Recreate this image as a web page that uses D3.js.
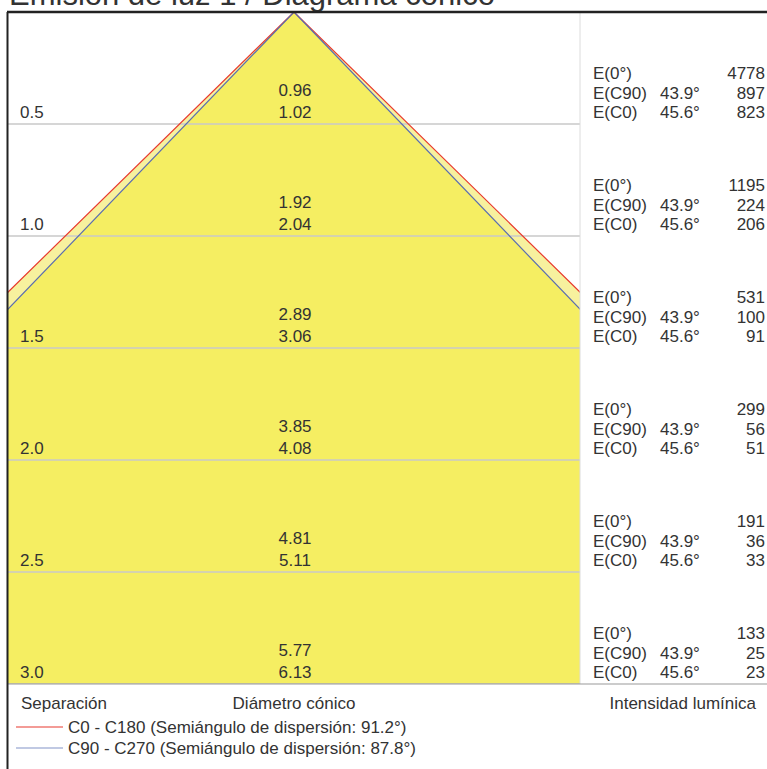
<!DOCTYPE html>
<html><head><meta charset="utf-8">
<script src="https://cdn.jsdelivr.net/npm/d3@7"></script>
<style>body{margin:0;background:#fff}svg{display:block}text{font-family:"Liberation Sans",Arial,sans-serif;fill:#333}</style>
</head><body><svg id="c" width="767" height="769"></svg>
<script>
const title = "Emisión de luz 1 / Diagrama cónico";
const distances = [0.5, 1.0, 1.5, 2.0, 2.5, 3.0];
const diamC90 = [0.96, 1.92, 2.89, 3.85, 4.81, 5.77];
const diamC0 = [1.02, 2.04, 3.06, 4.08, 5.11, 6.13];
const E0 = [4778, 1195, 531, 299, 191, 133];
const EC90 = [897, 224, 100, 56, 36, 25];
const EC0 = [823, 206, 91, 51, 33, 23];
const angleC90 = 43.9, angleC0 = 45.6;
const spreadC0 = 91.2, spreadC90 = 87.8;
const headers = ["Separación", "Diámetro cónico", "Intensidad lumínica"];

const svg = d3.select("#c");
const L = 8, R = 580, T = 12, B = 684, CX = 294;
const y = d3.scaleLinear().domain([0, 3]).range([T, B]);
const pxPerM = (B - T) / 3;
const x = d3.scaleLinear().domain([-1, 1]).range([CX - pxPerM, CX + pxPerM]);

svg.append("text").attr("x", 9).attr("y", 5).attr("font-size", 31).text(title);

svg.append("clipPath").attr("id", "cl").append("rect").attr("x", L).attr("y", T).attr("width", R - L).attr("height", B - T);
const g = svg.append("g").attr("clip-path", "url(#cl)");
const dMax = 3;
function cone(angle) {
  const h = dMax * Math.tan(angle * Math.PI / 180);
  return [[x(0), y(0)], [x(-h), y(dMax)], [x(h), y(dMax)]];
}
const line = d3.line();
g.append("path").attr("d", line(cone(angleC0)) + "Z").attr("fill", "#f7f19e");
g.append("path").attr("d", line(cone(angleC90)) + "Z").attr("fill", "#f5ee62");
g.selectAll(".gl").data(distances).join("line")
  .attr("x1", L).attr("x2", R).attr("y1", d => y(d)).attr("y2", d => y(d))
  .attr("stroke", "#c8c8c8").attr("stroke-width", 1.5);
function edges(angle, color) {
  const c = cone(angle);
  g.append("path").attr("d", line([c[1], c[0], c[2]])).attr("fill", "none").attr("stroke", color).attr("stroke-width", 1.2);
}
edges(angleC0, "#e8392e");
edges(angleC90, "#5a6db0");

svg.append("line").attr("x1", R).attr("x2", R).attr("y1", T).attr("y2", B).attr("stroke", "#dcdcdc");
svg.append("line").attr("x1", L).attr("x2", 767).attr("y1", B).attr("y2", B).attr("stroke", "#999").attr("stroke-width", 1.2);

const fs = 17;
distances.forEach((d, i) => {
  const yb = y(d) - 6;
  svg.append("text").attr("x", 20).attr("y", yb).attr("font-size", fs).text(d.toFixed(1));
  svg.append("text").attr("x", CX + 1).attr("y", yb - 22).attr("font-size", fs).attr("text-anchor", "middle").text(diamC90[i].toFixed(2));
  svg.append("text").attr("x", CX + 1).attr("y", yb).attr("font-size", fs).attr("text-anchor", "middle").text(diamC0[i].toFixed(2));
  const rows = [["E(0°)", "", E0[i]], ["E(C90)", angleC90.toFixed(1) + "°", EC90[i]], ["E(C0)", angleC0.toFixed(1) + "°", EC0[i]]];
  rows.forEach((r, j) => {
    const ry = yb - 39 + j * 19.5;
    svg.append("text").attr("x", 593).attr("y", ry).attr("font-size", fs).text(r[0]);
    svg.append("text").attr("x", 660).attr("y", ry).attr("font-size", fs).text(r[1]);
    svg.append("text").attr("x", 765).attr("y", ry).attr("font-size", fs).attr("text-anchor", "end").text(r[2]);
  });
});

svg.append("text").attr("x", 21).attr("y", 709).attr("font-size", fs).text(headers[0]);
svg.append("text").attr("x", CX).attr("y", 709).attr("font-size", fs).attr("text-anchor", "middle").text(headers[1]);
svg.append("text").attr("x", 756).attr("y", 709).attr("font-size", fs).attr("text-anchor", "end").text(headers[2]);
const legend = [["#e8392e", `C0 - C180 (Semiángulo de dispersión: ${spreadC0.toFixed(1)}°)`], ["#8193c8", `C90 - C270 (Semiángulo de dispersión: ${spreadC90.toFixed(1)}°)`]];
legend.forEach((l, i) => {
  const ly = 727 + i * 21;
  svg.append("line").attr("x1", 16).attr("x2", 63).attr("y1", ly).attr("y2", ly).attr("stroke", l[0]).attr("stroke-width", 1.2);
  svg.append("text").attr("x", 68).attr("y", ly + 6).attr("font-size", fs).text(l[1]);
});

svg.append("line").attr("x1", 7).attr("x2", 767).attr("y1", T).attr("y2", T).attr("stroke", "#222").attr("stroke-width", 2.5);
svg.append("line").attr("x1", 7.5).attr("x2", 7.5).attr("y1", T).attr("y2", 769).attr("stroke", "#222").attr("stroke-width", 2);
</script></body></html>
